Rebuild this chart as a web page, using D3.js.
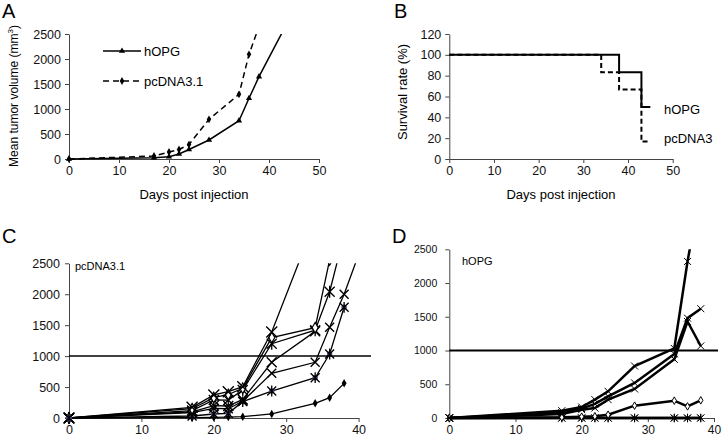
<!DOCTYPE html>
<html><head><meta charset="utf-8">
<script src="https://cdn.jsdelivr.net/npm/d3@7"></script>
<style>
body{margin:0;background:#fff;}
svg{display:block;font-family:"Liberation Sans",Arial,sans-serif;}
</style></head><body>
<svg id="c" width="722" height="443"></svg>
<script>
// ---------- Panel A data ----------
const A_hOPG_days = [0,17,20,22,24,28,34,36,38,43];
const A_hOPG_vals = [0,25,45,100,190,380,766,1214,1646,2600];
const A_pc_days = [0,17,20,22,24,28,34,36,38];
const A_pc_vals = [0,60,140,190,290,794,1294,2094,2650];
const A_yTicks = [0,500,1000,1500,2000,2500];
const A_xTicks = [0,10,20,30,40,50];
// ---------- Panel B data ----------
const B_hOPG_days = [0,38,38,43,43,45];
const B_hOPG_vals = [100,100,83.3,83.3,50,50];
const B_pc_days = [0,34,34,38,38,43,43,45];
const B_pc_vals = [100,100,83.3,83.3,66.7,66.7,16.7,16.7];
const B_yTicks = [0,20,40,60,80,100,120];
const B_xTicks = [0,10,20,30,40,50];
// ---------- Panel C data (pcDNA3.1 individual mice) ----------
const C_days = [0,17,20,22,24,28,34,36,38,40];
const C_m1 = [0,172,372,425,506,1390,3190,null,null,null];
const C_m2 = [0,150,330,380,480,1300,1460,2555,null,null];
const C_m3 = [0,120,291,290,452,1200,1420,2041,2960,null];
const C_m4 = [0,100,200,194,300,900,1400,null,null,null];
const C_m5 = [0,86,156,150,270,722,900,1466,1999,2640];
const C_m6 = [0,32,65,75,264,436,651,1034,1789,null];
const C_m7 = [0,5,10,15,21,65,237,329,560,null];
const C_yTicks = [0,500,1000,1500,2000,2500];
const C_xTicks = [0,10,20,30,40];
// ---------- Panel D data (hOPG individual mice) ----------
const D_days = [0,17,20,22,24,28,34,36,38];
const D_m1 = [0,108,163,272,395,770,1030,2320,3400];
const D_m2 = [0,80,140,210,320,520,950,1480,1620];
const D_m3 = [0,60,123,148,272,430,870,1430,1067];
const D_m4 = [0,10,20,25,49,183,257,172,262];
const D_m5 = [0,0,0,0,0,0,0,0,0];
const D_m6 = [0,0,0,0,0,0,0,0,0];
const D_yTicks = [0,500,1000,1500,2000,2500];
const D_xTicks = [0,10,20,30,40];
const threshold = 1000;

const svg = d3.select("#c");
let clipId = 0;

function marker(g, type, x, y, s, opt={}) {
  const sw = opt.sw || 1;
  if (type === "tri") {
    g.append("path").attr("d", d3.symbol(d3.symbolTriangle, s*s*1.3)()).attr("transform",`translate(${x},${y})`).attr("fill","#000");
  } else if (type === "dia") {
    g.append("path").attr("d", d3.symbol(d3.symbolDiamond, s*s*1.6)()).attr("transform",`translate(${x},${y})`).attr("fill","#000");
  } else if (type === "odia") {
    g.append("path").attr("d", d3.symbol(d3.symbolDiamond, s*s*1.6)()).attr("transform",`translate(${x},${y})`).attr("fill",opt.fill||"#fff").attr("stroke","#000").attr("stroke-width",sw);
  } else if (type === "x" || type === "star") {
    let d = `M${-s},${-s}L${s},${s}M${-s},${s}L${s},${-s}`;
    if (type === "star") d += `M0,${-s*1.2}L0,${s*1.2}`;
    if (opt.fill) g.append("circle").attr("cx",x).attr("cy",y).attr("r",s*0.6).attr("fill",opt.fill);
    g.append("path").attr("d",d).attr("transform",`translate(${x},${y})`).attr("stroke","#000").attr("stroke-width",sw).attr("fill","none");
  }
}

function panel(cfg) {
  const g = svg.append("g");
  const x = d3.scaleLinear().domain(cfg.xDom).range([cfg.x0, cfg.x1]);
  const y = d3.scaleLinear().domain(cfg.yDom).range([cfg.y0, cfg.y1]);
  const ax = g.append("g").attr("transform",`translate(0,${cfg.y0})`)
    .call(d3.axisBottom(x).tickValues(cfg.xTicks).tickFormat(d3.format("d")).tickSize(4).tickSizeOuter(0).tickPadding(3));
  const ay = g.append("g").attr("transform",`translate(${cfg.x0},0)`)
    .call(d3.axisLeft(y).tickValues(cfg.yTicks).tickFormat(d3.format("d")).tickSize(4).tickSizeOuter(0).tickPadding(cfg.yPad||3));
  [ax,ay].forEach(a=>{
    a.selectAll("path,line").attr("stroke",cfg.axisColor||"#444").attr("stroke-width",cfg.axisW||1);
    a.selectAll("text").attr("fill","#111").style("font-family",'"Liberation Sans",Arial,sans-serif');
  });
  ax.selectAll("text").style("font-size",(cfg.xFs||12.5)+"px");
  ay.selectAll("text").style("font-size",(cfg.yFs||12.5)+"px");
  const id = "clip"+(clipId++);
  svg.append("clipPath").attr("id",id).append("rect")
    .attr("x",cfg.x0-8).attr("y",cfg.y1).attr("width",cfg.x1-cfg.x0+30).attr("height",cfg.y0-cfg.y1+10);
  const plot = g.append("g").attr("clip-path",`url(#${id})`);
  return {g, x, y, plot};
}

function series(p, days, vals, o) {
  const pts = days.map((d,i)=>[d, vals[i]]).filter(v=>v[1]!==null);
  const line = d3.line().x(d=>p.x(d[0])).y(d=>p.y(d[1]));
  p.plot.append("path").attr("d", line(pts)).attr("fill","none").attr("stroke","#000")
    .attr("stroke-width", o.w).attr("stroke-dasharray", o.dash||null);
  if (o.m) pts.forEach(d=>marker(p.plot, o.m, p.x(d[0]), p.y(d[1]), o.s, o));
}

// ---------- Panel A ----------
const pA = panel({xDom:[0,50], yDom:[0,2500], x0:69, x1:319, y0:159, y1:34, xTicks:A_xTicks, yTicks:A_yTicks, yPad:4});
series(pA, A_pc_days, A_pc_vals, {w:1.5, dash:"6,4", m:"dia", s:3.3});
series(pA, A_hOPG_days, A_hOPG_vals, {w:1.5, m:"tri", s:3.6});
// legend
pA.g.append("line").attr("x1",103).attr("x2",141).attr("y1",51).attr("y2",51).attr("stroke","#000").attr("stroke-width",1.5);
marker(pA.g,"tri",122,51,3.6);
pA.g.append("text").attr("x",144).attr("y",55.5).text("hOPG").style("font-size","13px");
pA.g.append("line").attr("x1",103).attr("x2",141).attr("y1",81).attr("y2",81).attr("stroke","#000").attr("stroke-width",1.5).attr("stroke-dasharray","6,4");
marker(pA.g,"dia",122,81,3.3);
pA.g.append("text").attr("x",144).attr("y",85.5).text("pcDNA3.1").style("font-size","13px");
pA.g.append("text").attr("x",194).attr("y",199).attr("text-anchor","middle").text("Days post injection").style("font-size","13px");
const tA = pA.g.append("text").attr("transform","translate(18,96) rotate(-90)").attr("text-anchor","middle").style("font-size","12px");
tA.append("tspan").text("Mean tumor volume (mm");
tA.append("tspan").text("3").attr("dy",-5).style("font-size","8px");
tA.append("tspan").text(")").attr("dy",5);
svg.append("text").attr("x",2).attr("y",18).text("A").style("font-size","20px");

// ---------- Panel B ----------
const pB = panel({xDom:[0,50], yDom:[0,120], x0:449.3, x1:672.7, y0:159, y1:34, xTicks:B_xTicks, yTicks:B_yTicks, yPad:4});
series(pB, B_pc_days, B_pc_vals, {w:2, dash:"5,3"});
series(pB, B_hOPG_days, B_hOPG_vals, {w:2});
pB.g.append("text").attr("x",664).attr("y",114).text("hOPG").style("font-size","13px");
pB.g.append("text").attr("x",664).attr("y",143).text("pcDNA3").style("font-size","13px");
pB.g.append("text").attr("x",561).attr("y",199).attr("text-anchor","middle").text("Days post injection").style("font-size","13px");
pB.g.append("text").attr("transform","translate(407,92) rotate(-90)").attr("text-anchor","middle").text("Survival rate (%)").style("font-size","13px");
svg.append("text").attr("x",394).attr("y",18).text("B").style("font-size","20px");

// ---------- Panel C ----------
const pC = panel({xDom:[0,40], yDom:[0,2500], x0:69, x1:358.6, y0:418, y1:263.3, xTicks:C_xTicks, yTicks:C_yTicks, yPad:5});
pC.g.append("line").attr("x1",69).attr("x2",371).attr("y1",pC.y(threshold)).attr("y2",pC.y(threshold)).attr("stroke","#000").attr("stroke-width",1.5);
const purple = "#5a4a8c";
series(pC, C_days, C_m7, {w:1.3, m:"dia", s:3.6});
series(pC, C_days, C_m6, {w:1.3, m:"star", s:4.5, fill:purple, sw:1.3});
series(pC, C_days, C_m5, {w:1.3, m:"x", s:4.5, sw:1.4});
series(pC, C_days, C_m4, {w:1.3, m:"x", s:5, sw:1.4});
series(pC, C_days, C_m3, {w:1.3, m:"star", s:5, sw:1.3});
series(pC, C_days, C_m2, {w:1.3, m:"odia", s:4.5, sw:1.2, fill:"#fff"});
series(pC, C_days, C_m1, {w:1.3, m:"x", s:5.5, sw:1.4});
marker(pC.plot,"star",pC.x(0),pC.y(0),5,{fill:purple,sw:1.3});
pC.g.append("text").attr("x",75).attr("y",270).text("pcDNA3.1").style("font-size","11px");
svg.append("text").attr("x",2).attr("y",243).text("C").style("font-size","20px");

// ---------- Panel D ----------
const pD = panel({xDom:[0,40], yDom:[0,2500], x0:449.3, x1:714, y0:418, y1:249.3, xTicks:D_xTicks, yTicks:D_yTicks, yPad:8, yFs:10.5, xFs:12});
pD.g.append("line").attr("x1",449.3).attr("x2",718).attr("y1",pD.y(threshold)).attr("y2",pD.y(threshold)).attr("stroke","#000").attr("stroke-width",2);
series(pD, D_days, D_m6, {w:2.5, m:"star", s:3.5, sw:1});
series(pD, D_days, D_m5, {w:2.5, m:"star", s:3.5, sw:1});
series(pD, D_days, D_m4, {w:2.5, m:"odia", s:3.2, sw:1, fill:"#fff"});
series(pD, D_days, D_m3, {w:2.5, m:"x", s:3.5, sw:1});
series(pD, D_days, D_m2, {w:2.5, m:"x", s:3.5, sw:1});
series(pD, D_days, D_m1, {w:2.5, m:"x", s:3.5, sw:1});
pD.g.append("text").attr("x",462).attr("y",265).text("hOPG").style("font-size","11px");
svg.append("text").attr("x",392).attr("y",243).text("D").style("font-size","20px");
</script>
</body></html>
